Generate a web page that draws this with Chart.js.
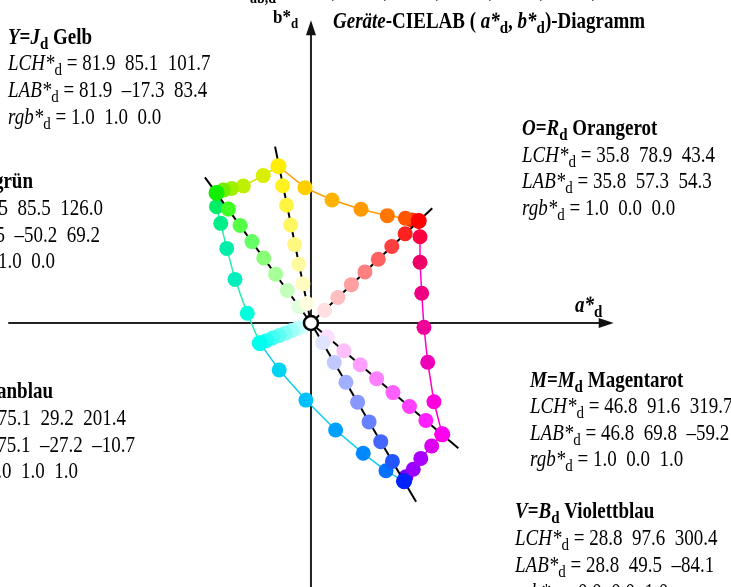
<!DOCTYPE html>
<html><head><meta charset="utf-8">
<script src="https://cdn.jsdelivr.net/npm/chart.js@4.4.1/dist/chart.umd.min.js"></script>
<style>html,body{margin:0;padding:0;background:#fff;overflow:hidden}canvas{display:block}</style>
</head><body>
<canvas id="c" width="731" height="587"></canvas>
<script>
// Device gamut corners (a*d, b*d): O Y L C V M
const cornerA = [57.3, -17.3, -50.2, -27.2, 49.5, 69.8];
const cornerB = [54.3, 83.4, 69.2, -10.7, -84.1, -59.2];
const cornerColors = ['#ff0000', '#ffee00', '#11ee00', '#00ffee', '#0022ff', '#ff00ee'];

// Gamut edges, measured samples from corner to corner
const edgeOY = [[57.3,54.3],[53.7,54.8],[50.2,55.7],[40.6,57.1],[26.6,60.5],[11.2,65.4],[-3.2,72.0],[-17.3,83.4]];
const edgeOYColors = ['#ff0000','#ff3300','#ff5500','#ff7700','#ff9900','#ffb300','#ffd000','#ffee00'];
const edgeYL = [[-17.3,83.4],[-25.4,78.4],[-36.0,72.9],[-42.2,71.6],[-46.6,70.7],[-50.2,69.2]];
const edgeYLColors = ['#ffee00','#d8f000','#bff000','#a0f000','#70f000','#11ee00'];
const edgeLC = [[-50.2,69.2],[-50.2,61.9],[-48.0,53.0],[-44.8,39.7],[-40.4,23.2],[-33.9,5.2],[-27.2,-10.7]];
const edgeLCColors = ['#11ee00','#00ee66','#00ee88','#00eeaa','#00eebb','#00ffdd','#00ffee'];
const edgeCV = [[-27.2,-10.7],[-16.9,-25.0],[-2.7,-41.0],[13.1,-56.9],[27.8,-69.3],[39.9,-78.6],[49.5,-84.1]];
const edgeCVColors = ['#00ffee','#00d4f0','#00c0ff','#00a0ff','#0088ff','#0070ff','#0022ff'];
const edgeVM = [[49.5,-84.1],[50.5,-81.8],[54.4,-77.8],[58.4,-72.0],[64.2,-65.4],[69.8,-59.2]];
const edgeVMColors = ['#0022ff','#7700ff','#9900ff','#aa00ff','#dd00ee','#ff00ee'];
const edgeMO = [[69.8,-59.2],[65.4,-41.9],[62.1,-20.9],[60.1,-2.3],[58.9,15.8],[58.0,32.3],[58.0,45.9],[57.3,54.3]];
const edgeMOColors = ['#ff00ee','#ff00dd','#ee00bb','#ee0099','#ee0080','#ee0066','#ff0040','#ff0000'];

// White-to-corner series
const rayO = [[7.2,6.8],[14.3,13.6],[21.5,20.4],[28.7,27.2],[35.8,33.9],[43.0,40.7],[50.1,47.5]];
const rayOColors = ['#ffdfdf','#ffbfbf','#ff9f9f','#ff8080','#ff6060','#ff4040','#ff2020'];
const rayY = [[-2.2,10.4],[-4.3,20.9],[-6.5,31.3],[-8.7,41.7],[-10.8,52.1],[-13.0,62.6],[-15.1,73.0]];
const rayYColors = ['#fffde0','#fffcc0','#fffaa0','#fff880','#fff660','#fff440','#fff220'];
const rayL = [[-6.3,8.7],[-12.6,17.3],[-18.8,26.0],[-25.1,34.6],[-31.4,43.3],[-37.7,51.9],[-43.9,60.6]];
const rayLColors = ['#dfffdf','#c4ffbb','#a8ff99','#88ff77','#66ff66','#55ff44','#40ff22'];
const rayC = [[-3.4,-1.3],[-6.8,-2.7],[-10.2,-4.0],[-13.6,-5.4],[-17.0,-6.7],[-20.4,-8.0],[-23.8,-9.4]];
const rayCColors = ['#dffffd','#bffffb','#9ffff9','#80fff7','#60fff5','#40fff3','#20fff1'];
const rayV = [[6.2,-10.5],[12.4,-21.0],[18.6,-31.5],[24.8,-42.1],[30.9,-52.6],[37.1,-63.1],[43.3,-73.6]];
const rayVColors = ['#dfe4ff','#c0c8ff','#a0b0ff','#8898ff','#6680ff','#4466ff','#2255ff'];
const rayM = [[8.7,-7.4],[17.5,-14.8],[26.2,-22.2],[34.9,-29.6],[43.6,-37.0],[52.4,-44.4],[61.1,-51.8]];
const rayMColors = ['#ffdfff','#ffbff8','#ff9fff','#ff80ff','#ff60ff','#ff40ff','#ff20ff'];

// End points of the black hue rays through the corners
const rayEndA = [64.5, -19.1, -56.4, -30.5, 55.9, 78.4];
const rayEndB = [61.0, 93.8, 77.5, -12.0, -95.1, -66.6];

// Text blocks for the six corners
const cornerTitles = [['O','R','Orangerot'],['Y','J','Gelb'],['L','G','Laubgrün'],['C','C','Cyanblau'],['V','B','Violettblau'],['M','M','Magentarot']];
const cornerLCH = ['35.8  78.9  43.4','81.9  85.1  101.7','65.5  85.5  126.0','75.1  29.2  201.4','28.8  97.6  300.4','46.8  91.6  319.7'];
const cornerLAB = ['35.8  57.3  54.3','81.9  –17.3  83.4','65.5  –50.2  69.2','75.1  –27.2  –10.7','28.8  49.5  –84.1','46.8  69.8  –59.2'];
const cornerRGB = ['1.0  0.0  0.0','1.0  1.0  0.0','0.0  1.0  0.0','0.0  1.0  1.0','0.0  0.0  1.0','1.0  0.0  1.0'];

const toXY = pts => pts.map(([a, b]) => ({x: a, y: b}));
const FONT = '"Liberation Serif", "Times New Roman", serif';
const TEXT_STRETCH = 1.17;

const datasets = [];
// origin marker (on top)
datasets.push({data: [{x: 0, y: 0}], order: 0, showLine: false, pointRadius: 7,
  pointBackgroundColor: '#ffffff', pointBorderColor: '#000000', pointBorderWidth: 2.5});
// corner dots
datasets.push({data: cornerA.map((a, i) => ({x: a, y: cornerB[i]})), order: 1, showLine: false,
  pointRadius: 8, pointBackgroundColor: cornerColors, pointBorderWidth: 0});
// white-to-corner dots
[[rayO, rayOColors], [rayY, rayYColors], [rayL, rayLColors], [rayC, rayCColors], [rayV, rayVColors], [rayM, rayMColors]]
  .forEach(([pts, cols]) => datasets.push({data: toXY(pts), order: 2, showLine: false,
    pointRadius: 7.5, pointBackgroundColor: cols, pointBorderWidth: 0}));
// black hue rays
rayEndA.forEach((a, i) => datasets.push({data: [{x: 0, y: 0}, {x: a, y: rayEndB[i]}], order: 3,
  showLine: true, borderColor: '#000000', borderWidth: 2, pointRadius: 0}));
// gamut edges
[[edgeOY, edgeOYColors, '#ff9900'], [edgeYL, edgeYLColors, '#d8e000'], [edgeLC, edgeLCColors, '#22eeaa'],
 [edgeCV, edgeCVColors, '#11ccee'], [edgeVM, edgeVMColors, '#aa00ff'], [edgeMO, edgeMOColors, '#ff00cc']]
  .forEach(([pts, cols, line]) => datasets.push({data: toXY(pts), order: 4, showLine: true,
    borderColor: line, borderWidth: 1.5, pointRadius: 7.5, pointBackgroundColor: cols, pointBorderWidth: 0}));

function drawRich(ctx, x, y, segs, size, align) {
  const parts = segs.map(([t, f = '']) => {
    const sub = f.includes('s');
    const sz = sub ? Math.round(size * 0.78) : size;
    const font = (f.includes('i') ? 'italic ' : '') + (f.includes('b') ? 'bold ' : '') + sz + 'px ' + FONT;
    ctx.font = font;
    return {t, font, w: ctx.measureText(t).width, dy: sub ? size * 0.24 : 0};
  });
  const total = parts.reduce((s, p) => s + p.w, 0);
  let cx = align === 'right' ? x - total : x;
  ctx.save();
  ctx.translate(0, y);
  ctx.scale(1, TEXT_STRETCH);
  for (const p of parts) { ctx.font = p.font; ctx.fillText(p.t, cx, p.dy); cx += p.w; }
  ctx.restore();
}

function cornerBlock(ctx, i, x, ys, aligns) {
  const [h, dev, name] = cornerTitles[i];
  const rows = [
    [[h, 'bi'], ['=', 'b'], [dev, 'bi'], ['d', 'bs'], [' ' + name, 'b']],
    [['LCH*', 'i'], ['d', 's'], [' = ' + cornerLCH[i]]],
    [['LAB*', 'i'], ['d', 's'], [' = ' + cornerLAB[i]]],
    [['rgb*', 'i'], ['d', 's'], [' = ' + cornerRGB[i]]]
  ];
  rows.forEach((r, k) => {
    const ax = Array.isArray(x) ? x[k] : x;
    drawRich(ctx, ax, ys[k], r, 19, aligns);
  });
}

const decor = {
  id: 'decor',
  beforeDatasetsDraw(chart) {
    const ctx = chart.ctx, xs = chart.scales.x, ys = chart.scales.y;
    const ox = xs.getPixelForValue(0), oy = ys.getPixelForValue(0);
    const lim = 161;
    const xl = xs.getPixelForValue(-lim), xr = xs.getPixelForValue(lim), yt = ys.getPixelForValue(lim);
    ctx.save();
    ctx.strokeStyle = '#222'; ctx.fillStyle = '#111'; ctx.lineWidth = 2;
    ctx.beginPath(); ctx.moveTo(xl, oy); ctx.lineTo(xr - 12, oy);
    ctx.moveTo(ox, chart.height); ctx.lineTo(ox, yt + 12); ctx.stroke();
    ctx.beginPath(); ctx.moveTo(xr, oy); ctx.lineTo(xr - 15, oy - 5); ctx.lineTo(xr - 15, oy + 5); ctx.closePath(); ctx.fill();
    ctx.beginPath(); ctx.moveTo(ox, yt); ctx.lineTo(ox - 5, yt + 15); ctx.lineTo(ox + 5, yt + 15); ctx.closePath(); ctx.fill();
    ctx.restore();
  },
  afterDraw(chart) {
    const ctx = chart.ctx;
    ctx.save();
    ctx.fillStyle = '#000';
    ctx.textBaseline = 'alphabetic';
    // clipped line at the top edge
    drawRich(ctx, 250, 3, [['ab,d', 'b']], 14);
    [333, 385, 437, 490, 541, 593].forEach(x => drawRich(ctx, x, 1, [['/', 'i']], 19));
    // axis labels and heading
    drawRich(ctx, 273, 23, [['b*', 'b'], ['d', 'bs']], 17);
    drawRich(ctx, 575, 312, [['a*', 'bi'], ['d', 'bs']], 19);
    drawRich(ctx, 333, 28, [['Geräte', 'bi'], ['-CIELAB ( ', 'b'], ['a*', 'bi'], ['d', 'bs'], [', ', 'b'],
      ['b*', 'bi'], ['d', 'bs'], [')-Diagramm', 'b']], 19);
    // corner blocks
    cornerBlock(ctx, 0, 522, [135, 162, 188, 215]);
    cornerBlock(ctx, 1, 8, [44, 70, 97, 124]);
    cornerBlock(ctx, 2, [33, 103, 100, 55], [188, 215, 242, 268], 'right');
    cornerBlock(ctx, 3, [53, 126, 135, 78], [398, 425, 452, 478], 'right');
    cornerBlock(ctx, 4, 515, [518, 545, 572, 599]);
    cornerBlock(ctx, 5, 530, [387, 413, 440, 466]);
    ctx.restore();
  }
};

new Chart(document.getElementById('c'), {
  type: 'scatter',
  data: {datasets},
  options: {
    responsive: false, animation: false, events: [],
    layout: {padding: 0, autoPadding: false},
    scales: {
      x: {type: 'linear', min: -165.4, max: 223.4, display: false},
      y: {type: 'linear', min: -140.4, max: 171.8, display: false}
    },
    plugins: {legend: {display: false}, tooltip: {enabled: false}}
  },
  plugins: [decor]
});
</script>
</body></html>
